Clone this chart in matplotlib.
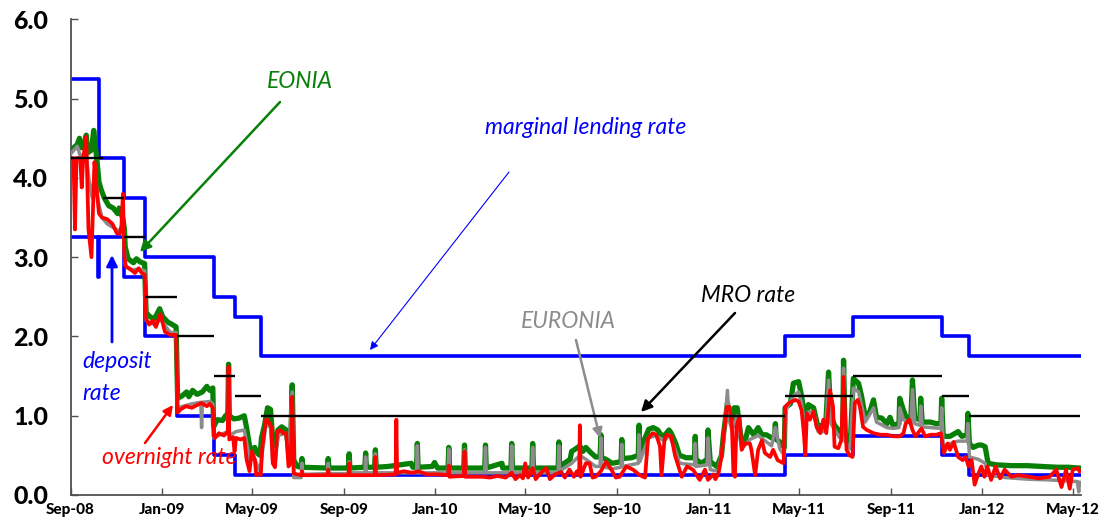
import matplotlib
matplotlib.use("Agg")
import matplotlib.pyplot as plt
import matplotlib.dates as mdates
import pandas as pd

# ---------------- policy rates ----------------
mro_start = ["2008-09-01", "2008-10-15", "2008-11-12", "2008-12-10", "2009-01-21", "2009-03-11",
             "2009-04-08", "2009-05-13", "2011-04-13", "2011-07-13", "2011-11-09", "2011-12-14"]
mro_end = ["2008-10-15", "2008-11-12", "2008-12-10", "2009-01-21", "2009-03-11", "2009-04-08",
           "2009-05-13", "2011-04-13", "2011-07-13", "2011-11-09", "2011-12-14", "2012-05-10"]
mro_rate = [4.25, 3.75, 3.25, 2.50, 2.00, 1.50, 1.25, 1.00, 1.25, 1.50, 1.25, 1.00]

mlf_dates = ["2008-09-01", "2008-10-09", "2008-11-12", "2008-12-10", "2009-03-11", "2009-04-08",
             "2009-05-13", "2011-04-13", "2011-07-13", "2011-11-09", "2011-12-14", "2012-05-10"]
mlf_rate = [5.25, 4.25, 3.75, 3.00, 2.50, 2.25, 1.75, 2.00, 2.25, 2.00, 1.75, 1.75]

dep_dates = ["2008-09-01", "2008-10-08", "2008-10-09", "2008-11-12", "2008-12-10", "2009-01-21",
             "2009-03-11", "2009-04-08", "2011-04-13", "2011-07-13", "2011-11-09", "2011-12-14", "2012-05-10"]
dep_rate = [3.25, 2.75, 3.25, 2.75, 2.00, 1.00, 0.50, 0.25, 0.50, 0.75, 0.50, 0.25, 0.25]

# ---------------- EONIA ----------------
eonia_dates = [
    "2008-09-01", "2008-09-05", "2008-09-10", "2008-09-13", "2008-09-16", "2008-09-19", "2008-09-22",
    "2008-09-24", "2008-09-29", "2008-10-02", "2008-10-06", "2008-10-09", "2008-10-12", "2008-10-16",
    "2008-10-22", "2008-10-28", "2008-11-03", "2008-11-05", "2008-11-10", "2008-11-12", "2008-11-13",
    "2008-11-17", "2008-11-24", "2008-11-28", "2008-12-03", "2008-12-09", "2008-12-10", "2008-12-11",
    "2008-12-16", "2008-12-22", "2008-12-29", "2009-01-02", "2009-01-09", "2009-01-15", "2009-01-20",
    "2009-01-22", "2009-01-28", "2009-02-03", "2009-02-06", "2009-02-11", "2009-02-17", "2009-02-24",
    "2009-03-02", "2009-03-06", "2009-03-10", "2009-03-11", "2009-03-16", "2009-03-23", "2009-03-27",
    "2009-03-30", "2009-03-31", "2009-04-01", "2009-04-07", "2009-04-14", "2009-04-21", "2009-04-24",
    "2009-04-28", "2009-05-01", "2009-05-05", "2009-05-08", "2009-05-12", "2009-05-14", "2009-05-18",
    "2009-05-22", "2009-05-26", "2009-05-29", "2009-06-02", "2009-06-05", "2009-06-10", "2009-06-16",
    "2009-06-19", "2009-06-22", "2009-06-24", "2009-06-26", "2009-07-01", "2009-07-06", "2009-07-07",
    "2009-07-08", "2009-08-10", "2009-08-11", "2009-08-12", "2009-09-07", "2009-09-08", "2009-09-09",
    "2009-09-29", "2009-09-30", "2009-10-01", "2009-10-12", "2009-10-13", "2009-10-14", "2009-10-30",
    "2009-11-30", "2009-12-02", "2009-12-07", "2009-12-08", "2009-12-09", "2009-12-28", "2009-12-31",
    "2010-01-04", "2010-01-18", "2010-01-19", "2010-01-20", "2010-02-08", "2010-02-09", "2010-02-10",
    "2010-03-08", "2010-03-09", "2010-03-10", "2010-03-31", "2010-04-01", "2010-04-12", "2010-04-13",
    "2010-04-14", "2010-05-10", "2010-05-11", "2010-05-12", "2010-06-14", "2010-06-15", "2010-06-16",
    "2010-06-30", "2010-07-02", "2010-07-07", "2010-07-13", "2010-07-17", "2010-07-21", "2010-07-27",
    "2010-08-03", "2010-08-09", "2010-08-10", "2010-08-11", "2010-08-17", "2010-08-25", "2010-09-06",
    "2010-09-07", "2010-09-08", "2010-09-20", "2010-09-29", "2010-09-30", "2010-10-01", "2010-10-08",
    "2010-10-13", "2010-10-19", "2010-10-25", "2010-10-29", "2010-11-03", "2010-11-09", "2010-11-12",
    "2010-11-18", "2010-11-23", "2010-12-02", "2010-12-13", "2010-12-14", "2010-12-15", "2010-12-22",
    "2010-12-30", "2010-12-31", "2011-01-03", "2011-01-12", "2011-01-18", "2011-01-21", "2011-01-26",
    "2011-01-28", "2011-02-01", "2011-02-04", "2011-02-08", "2011-02-10", "2011-02-14", "2011-02-18",
    "2011-02-23", "2011-03-02", "2011-03-08", "2011-03-13", "2011-03-19", "2011-03-26", "2011-03-30",
    "2011-03-31", "2011-04-01", "2011-04-06", "2011-04-12", "2011-04-13", "2011-04-20", "2011-04-24",
    "2011-05-01", "2011-05-05", "2011-05-10", "2011-05-14", "2011-05-21", "2011-05-27", "2011-06-01",
    "2011-06-06", "2011-06-10", "2011-06-13", "2011-06-18", "2011-06-25", "2011-06-29", "2011-06-30",
    "2011-07-02", "2011-07-09", "2011-07-13", "2011-07-20", "2011-07-24", "2011-07-29", "2011-08-04",
    "2011-08-09", "2011-08-13", "2011-08-20", "2011-08-27", "2011-08-31", "2011-09-04", "2011-09-12",
    "2011-09-13", "2011-09-18", "2011-09-22", "2011-09-28", "2011-09-30", "2011-10-03", "2011-10-10",
    "2011-10-11", "2011-10-13", "2011-10-24", "2011-11-01", "2011-11-07", "2011-11-08", "2011-11-10",
    "2011-11-19", "2011-11-30", "2011-12-05", "2011-12-12", "2011-12-13", "2011-12-15", "2011-12-20",
    "2011-12-27", "2011-12-31", "2012-01-05", "2012-01-09", "2012-01-20", "2012-02-10", "2012-03-01",
    "2012-03-20", "2012-04-10", "2012-04-25", "2012-05-10"]
eonia_vals = [
    4.35, 4.38, 4.42, 4.50, 4.38, 4.40, 4.54,
    4.32, 4.35, 4.60, 4.25, 3.95, 3.85, 3.75,
    3.65, 3.62, 3.55, 3.62, 3.48, 3.35, 3.13,
    2.98, 2.93, 2.98, 2.94, 2.92, 2.55, 2.30,
    2.25, 2.22, 2.35, 2.25, 2.18, 2.15, 2.12,
    1.22, 1.25, 1.30, 1.24, 1.32, 1.27, 1.30,
    1.37, 1.32, 1.35, 0.86, 0.95, 0.94, 1.00,
    1.02, 1.65, 1.00, 0.96, 0.97, 1.00, 0.85,
    0.62, 0.55, 0.60, 0.53, 0.50, 0.72, 0.88,
    1.10, 1.08, 0.70, 0.62, 0.82, 0.86, 0.82,
    0.58, 0.65, 1.39, 0.44, 0.36, 0.35, 0.46,
    0.35, 0.34, 0.46, 0.34, 0.34, 0.52, 0.34,
    0.35, 0.53, 0.35, 0.35, 0.57, 0.35, 0.36,
    0.40, 0.35, 0.35, 0.65, 0.35, 0.36, 0.41,
    0.34, 0.34, 0.60, 0.34, 0.34, 0.63, 0.34,
    0.34, 0.63, 0.34, 0.40, 0.34, 0.34, 0.65,
    0.34, 0.34, 0.65, 0.34, 0.34, 0.67, 0.36,
    0.45, 0.55, 0.58, 0.62, 0.55, 0.60, 0.54,
    0.48, 0.48, 0.76, 0.47, 0.45, 0.40, 0.42,
    0.70, 0.46, 0.47, 0.50, 0.88, 0.55, 0.72,
    0.83, 0.85, 0.82, 0.76, 0.75, 0.82, 0.78,
    0.65, 0.50, 0.47, 0.47, 0.74, 0.45, 0.40,
    0.45, 0.82, 0.42, 0.36, 0.50, 0.79, 1.16,
    1.05, 0.90, 1.10, 1.10, 0.95, 0.66, 0.66,
    0.85, 0.76, 0.85, 0.76, 0.76, 0.72, 0.74,
    0.90, 0.70, 0.67, 0.60, 1.10, 1.15, 1.41,
    1.43, 1.25, 0.93, 1.14, 1.10, 0.85, 0.88,
    0.85, 1.55, 1.00, 0.88, 0.80, 0.82, 1.70,
    0.78, 0.65, 1.47, 1.41, 1.25, 0.98, 1.05,
    1.20, 0.98, 0.97, 0.90, 0.98, 0.88, 0.90,
    1.22, 1.07, 0.97, 0.99, 1.45, 0.97, 0.95,
    1.22, 0.92, 0.92, 0.90, 0.90, 1.22, 0.74,
    0.74, 0.80, 0.74, 0.76, 1.03, 0.65, 0.60,
    0.63, 0.63, 0.61, 0.40, 0.38, 0.37, 0.37,
    0.36, 0.35, 0.35, 0.34]

# ---------------- EURONIA ----------------
euronia_dates = [
    "2008-09-01", "2008-09-10", "2008-09-14", "2008-09-22", "2008-09-26", "2008-09-30", "2008-10-03",
    "2008-10-08", "2008-10-13", "2008-10-20", "2008-10-27", "2008-11-05", "2008-11-10", "2008-11-13",
    "2008-11-20", "2008-12-01", "2008-12-09", "2008-12-11", "2008-12-22", "2008-12-30", "2009-01-12",
    "2009-01-20", "2009-01-22", "2009-02-10", "2009-02-22", "2009-02-23", "2009-02-24", "2009-03-06",
    "2009-03-10", "2009-03-11", "2009-03-20", "2009-03-30", "2009-03-31", "2009-04-01", "2009-04-10",
    "2009-04-21", "2009-04-28", "2009-05-05", "2009-05-12", "2009-05-20", "2009-05-26", "2009-05-29",
    "2009-06-01", "2009-06-05", "2009-06-16", "2009-06-19", "2009-06-24", "2009-06-26", "2009-07-06",
    "2009-07-07", "2009-07-08", "2009-08-10", "2009-08-11", "2009-08-12", "2009-09-07", "2009-09-08",
    "2009-09-09", "2009-09-29", "2009-09-30", "2009-10-01", "2009-10-12", "2009-10-13", "2009-10-14",
    "2009-12-07", "2009-12-08", "2009-12-09", "2010-01-18", "2010-01-19", "2010-01-20", "2010-02-08",
    "2010-02-09", "2010-02-10", "2010-03-08", "2010-03-09", "2010-03-10", "2010-04-12", "2010-04-13",
    "2010-04-14", "2010-05-10", "2010-05-11", "2010-05-12", "2010-06-14", "2010-06-15", "2010-06-16",
    "2010-07-02", "2010-07-13", "2010-07-21", "2010-08-03", "2010-08-09", "2010-08-10", "2010-08-11",
    "2010-08-25", "2010-09-06", "2010-09-07", "2010-09-08", "2010-09-29", "2010-09-30", "2010-10-01",
    "2010-10-13", "2010-10-22", "2010-11-03", "2010-11-09", "2010-11-18", "2010-11-23", "2010-12-13",
    "2010-12-14", "2010-12-15", "2010-12-30", "2010-12-31", "2011-01-03", "2011-01-14", "2011-01-21",
    "2011-01-26", "2011-01-28", "2011-02-01", "2011-02-08", "2011-02-14", "2011-02-25", "2011-03-08",
    "2011-03-26", "2011-03-31", "2011-04-06", "2011-04-12", "2011-04-13", "2011-04-24", "2011-05-01",
    "2011-05-05", "2011-05-10", "2011-05-14", "2011-05-21", "2011-05-27", "2011-06-06", "2011-06-10",
    "2011-06-13", "2011-06-25", "2011-06-29", "2011-06-30", "2011-07-02", "2011-07-09", "2011-07-13",
    "2011-07-20", "2011-07-29", "2011-08-09", "2011-08-13", "2011-08-27", "2011-09-04", "2011-09-12",
    "2011-09-13", "2011-09-18", "2011-09-28", "2011-09-30", "2011-10-03", "2011-10-10", "2011-10-11",
    "2011-10-13", "2011-11-07", "2011-11-08", "2011-11-10", "2011-11-30", "2011-12-12", "2011-12-13",
    "2011-12-15", "2011-12-27", "2012-01-05", "2012-01-09", "2012-02-01", "2012-03-01", "2012-04-01",
    "2012-05-07", "2012-05-09", "2012-05-10"]
euronia_vals = [
    4.30, 4.40, 4.28, 4.30, 3.95, 3.75, 4.10,
    3.70, 3.50, 3.42, 3.38, 3.33, 3.40, 2.90,
    2.84, 2.85, 2.83, 2.20, 2.15, 2.22, 2.05,
    2.05, 1.10, 1.15, 1.17, 0.85, 1.17, 1.18,
    1.15, 0.72, 0.76, 0.80, 1.55, 0.75, 0.80,
    0.82, 0.45, 0.45, 0.30, 0.90, 0.85, 0.42,
    0.38, 0.75, 0.78, 0.45, 1.30, 0.22, 0.22,
    0.40, 0.26, 0.27, 0.40, 0.27, 0.27, 0.42,
    0.28, 0.28, 0.48, 0.28, 0.28, 0.52, 0.28,
    0.28, 0.62, 0.28, 0.28, 0.58, 0.28, 0.28,
    0.57, 0.28, 0.28, 0.60, 0.28, 0.28, 0.62,
    0.28, 0.28, 0.60, 0.28, 0.28, 0.62, 0.30,
    0.40, 0.50, 0.45, 0.36, 0.36, 0.72, 0.36,
    0.33, 0.35, 0.64, 0.36, 0.40, 0.76, 0.42,
    0.72, 0.75, 0.68, 0.76, 0.55, 0.40, 0.38,
    0.65, 0.36, 0.38, 0.72, 0.32, 0.30, 0.70,
    1.32, 0.95, 0.82, 1.00, 0.58, 0.70, 0.75,
    0.62, 0.85, 0.58, 0.50, 1.05, 1.25, 1.30,
    1.15, 0.85, 1.05, 1.05, 0.80, 0.80, 1.45,
    0.90, 0.72, 0.75, 1.60, 0.68, 0.58, 1.35,
    1.30, 0.92, 1.10, 0.92, 0.85, 0.84, 0.85,
    1.10, 0.95, 0.90, 1.33, 0.90, 0.88, 1.12,
    0.86, 0.84, 1.10, 0.62, 0.68, 0.68, 0.90,
    0.48, 0.45, 0.40, 0.25, 0.22, 0.20, 0.19,
    0.17, 0.04, 0.16]

# ---------------- overnight rate ----------------
on_dates = [
    "2008-09-01", "2008-09-05", "2008-09-07", "2008-09-09", "2008-09-14", "2008-09-16", "2008-09-18",
    "2008-09-22", "2008-09-25", "2008-09-29", "2008-10-01", "2008-10-03", "2008-10-06", "2008-10-09",
    "2008-10-13", "2008-10-20", "2008-10-27", "2008-11-02", "2008-11-06", "2008-11-08", "2008-11-10",
    "2008-11-12", "2008-11-14", "2008-11-20", "2008-11-26", "2008-12-01", "2008-12-05", "2008-12-09",
    "2008-12-11", "2008-12-15", "2008-12-20", "2008-12-24", "2008-12-30", "2009-01-05", "2009-01-12",
    "2009-01-20", "2009-01-22", "2009-01-26", "2009-02-02", "2009-02-10", "2009-02-16", "2009-02-23",
    "2009-03-02", "2009-03-06", "2009-03-10", "2009-03-11", "2009-03-13", "2009-03-18", "2009-03-25",
    "2009-03-30", "2009-03-31", "2009-04-01", "2009-04-06", "2009-04-08", "2009-04-10", "2009-04-16",
    "2009-04-21", "2009-04-24", "2009-04-28", "2009-05-01", "2009-05-05", "2009-05-07", "2009-05-11",
    "2009-05-13", "2009-05-15", "2009-05-20", "2009-05-22", "2009-05-27", "2009-05-29", "2009-06-01",
    "2009-06-04", "2009-06-08", "2009-06-12", "2009-06-16", "2009-06-19", "2009-06-22", "2009-06-24",
    "2009-06-26", "2009-07-06", "2009-07-07", "2009-07-08", "2009-08-10", "2009-08-11", "2009-08-12",
    "2009-09-07", "2009-09-08", "2009-09-09", "2009-10-12", "2009-10-13", "2009-10-14", "2009-11-09",
    "2009-11-10", "2009-11-11", "2009-11-20", "2009-12-01", "2009-12-10", "2009-12-20", "2010-01-05",
    "2010-01-18", "2010-01-19", "2010-01-20", "2010-02-08", "2010-02-09", "2010-02-10", "2010-03-05",
    "2010-03-15", "2010-03-25", "2010-04-05", "2010-04-13", "2010-04-18", "2010-04-24", "2010-04-28",
    "2010-05-01", "2010-05-05", "2010-05-11", "2010-05-15", "2010-05-22", "2010-05-29", "2010-06-03",
    "2010-06-10", "2010-06-18", "2010-06-23", "2010-06-29", "2010-07-05", "2010-07-09", "2010-07-12",
    "2010-07-13", "2010-07-14", "2010-07-21", "2010-07-26", "2010-07-30", "2010-08-03", "2010-08-10",
    "2010-08-17", "2010-08-24", "2010-08-30", "2010-09-04", "2010-09-13", "2010-09-22", "2010-10-01",
    "2010-10-08", "2010-10-12", "2010-10-18", "2010-10-23", "2010-10-28", "2010-10-30", "2010-11-03",
    "2010-11-06", "2010-11-12", "2010-11-17", "2010-11-19", "2010-11-26", "2010-12-03", "2010-12-11",
    "2010-12-20", "2010-12-27", "2010-12-31", "2011-01-07", "2011-01-10", "2011-01-14", "2011-01-18",
    "2011-01-25", "2011-01-29", "2011-02-01", "2011-02-03", "2011-02-05", "2011-02-07", "2011-02-11",
    "2011-02-14", "2011-02-18", "2011-02-25", "2011-02-27", "2011-03-04", "2011-03-08", "2011-03-13",
    "2011-03-17", "2011-03-24", "2011-03-28", "2011-04-03", "2011-04-11", "2011-04-13", "2011-04-18",
    "2011-04-22", "2011-04-27", "2011-05-01", "2011-05-05", "2011-05-08", "2011-05-10", "2011-05-12",
    "2011-05-16", "2011-05-21", "2011-05-25", "2011-05-30", "2011-06-03", "2011-06-07", "2011-06-12",
    "2011-06-16", "2011-06-18", "2011-06-23", "2011-06-27", "2011-06-30", "2011-07-04", "2011-07-08",
    "2011-07-12", "2011-07-15", "2011-07-19", "2011-07-22", "2011-07-26", "2011-07-31", "2011-08-09",
    "2011-08-18", "2011-08-27", "2011-09-05", "2011-09-13", "2011-09-18", "2011-09-21", "2011-09-26",
    "2011-09-30", "2011-10-04", "2011-10-12", "2011-10-17", "2011-10-24", "2011-11-01", "2011-11-07",
    "2011-11-11", "2011-11-16", "2011-11-19", "2011-11-24", "2011-11-30", "2011-12-06", "2011-12-10",
    "2011-12-14", "2011-12-18", "2011-12-22", "2011-12-27", "2011-12-31", "2012-01-04", "2012-01-08",
    "2012-01-13", "2012-01-19", "2012-01-25", "2012-01-31", "2012-02-09", "2012-02-18", "2012-03-04",
    "2012-03-17", "2012-03-31", "2012-04-09", "2012-04-16", "2012-04-22", "2012-04-27", "2012-05-01",
    "2012-05-08", "2012-05-10"]
on_vals = [
    4.25, 4.25, 3.35, 4.25, 4.25, 3.88, 4.25,
    4.52, 3.35, 3.00, 3.60, 4.20, 3.85, 3.55,
    3.50, 3.48, 3.42, 3.30, 3.30, 3.40, 3.80,
    3.00, 2.88, 2.85, 2.80, 2.86, 2.80, 2.78,
    2.22, 2.15, 2.20, 2.12, 2.28, 2.06, 2.02,
    2.02, 1.04, 1.08, 1.12, 1.10, 1.13, 1.16,
    1.12, 1.15, 1.10, 0.75, 0.72, 0.78, 0.75,
    0.80, 1.62, 0.70, 0.73, 0.55, 0.72, 0.70,
    0.72, 0.45, 0.30, 0.55, 0.45, 0.25, 0.27,
    0.25, 0.60, 0.95, 0.95, 0.86, 0.40, 0.35,
    0.80, 0.82, 0.78, 0.78, 0.36, 0.40, 1.24,
    0.27, 0.25, 0.30, 0.25, 0.25, 0.32, 0.25,
    0.25, 0.40, 0.25, 0.25, 0.48, 0.25, 0.26,
    0.95, 0.28, 0.30, 0.28, 0.30, 0.26, 0.26,
    0.25, 0.37, 0.23, 0.24, 0.55, 0.23, 0.23,
    0.22, 0.24, 0.22, 0.28, 0.20, 0.25, 0.21,
    0.40, 0.22, 0.34, 0.20, 0.28, 0.34, 0.20,
    0.26, 0.29, 0.22, 0.32, 0.23, 0.30, 0.25,
    0.88, 0.23, 0.40, 0.40, 0.22, 0.23, 0.30,
    0.42, 0.32, 0.22, 0.23, 0.36, 0.32, 0.25,
    0.22, 0.71, 0.78, 0.76, 0.61, 0.25, 0.70,
    0.76, 0.74, 0.50, 0.44, 0.23, 0.36, 0.32,
    0.19, 0.32, 0.19, 0.26, 0.20, 0.27, 0.48,
    1.11, 1.11, 0.86, 0.27, 0.23, 0.86, 0.99,
    0.57, 0.65, 0.65, 0.57, 0.25, 0.57, 0.69,
    0.53, 0.48, 0.57, 0.44, 0.40, 1.11, 1.16,
    1.18, 1.20, 1.18, 1.07, 0.78, 0.50, 1.03,
    0.95, 1.05, 0.86, 0.78, 0.95, 0.78, 1.32,
    1.11, 0.61, 0.59, 0.69, 1.49, 0.57, 0.50,
    0.48, 1.16, 1.20, 1.11, 0.86, 0.82, 0.78,
    0.76, 0.76, 0.74, 0.74, 0.78, 0.90, 0.95,
    0.82, 0.74, 0.84, 0.74, 0.76, 0.76, 0.78,
    0.53, 0.65, 0.57, 0.67, 0.48, 0.44, 0.48,
    0.36, 0.44, 0.13, 0.27, 0.36, 0.23, 0.36,
    0.19, 0.36, 0.21, 0.32, 0.23, 0.25, 0.23,
    0.21, 0.23, 0.32, 0.10, 0.32, 0.08, 0.32,
    0.34, 0.30]

x_start, x_end = "2008-09-01", "2012-05-12"
tick_dates = ["2008-09-01", "2009-01-01", "2009-05-01", "2009-09-01", "2010-01-01", "2010-05-01",
              "2010-09-01", "2011-01-01", "2011-05-01", "2011-09-01", "2012-01-01", "2012-05-01"]
y_ticks = [0, 1, 2, 3, 4, 5, 6]

D = pd.to_datetime

W, H = 1106, 530
fig = plt.figure(figsize=(W / 100, H / 100), dpi=100)
ax = fig.add_axes([70.5 / W, 35 / H, (1081 - 70.5) / W, (495 - 19.4) / H])

BLUE = "#0000FF"
GREEN = "#088008"
GRAY = "#8C8C8C"
RED = "#FF0000"

ax.step(D(mlf_dates), mlf_rate, where="post", color=BLUE, lw=2.6, zorder=2)
ax.step(D(dep_dates), dep_rate, where="post", color=BLUE, lw=2.6, zorder=2)
ax.plot(D(eonia_dates), eonia_vals, color=GREEN, lw=3.8, zorder=3, solid_joinstyle="round")
ax.plot(D(euronia_dates), euronia_vals, color=GRAY, lw=2.5, zorder=4, solid_joinstyle="round")
ax.plot(D(on_dates), on_vals, color=RED, lw=2.7, zorder=5, solid_joinstyle="round")
ax.hlines(mro_rate, D(mro_start), D(mro_end), colors="black", lw=1.7, zorder=6)

ax.set_xlim(D(x_start), D(x_end))
ax.set_ylim(0, 6)
ax.set_yticks(y_ticks)
ax.yaxis.set_major_formatter(matplotlib.ticker.FormatStrFormatter("%.1f"))
ax.set_xticks(D(tick_dates))
ax.xaxis.set_major_formatter(mdates.DateFormatter("%b-%y"))

for s in ["top", "right"]:
    ax.spines[s].set_visible(False)
for s in ["left", "bottom"]:
    ax.spines[s].set_color("#505050")
    ax.spines[s].set_linewidth(1.3)

ax.tick_params(axis="y", direction="in", length=5, width=1, color="#505050", pad=16)
ax.tick_params(axis="x", direction="in", length=5, width=1, color="#505050", pad=6)
for lab in ax.get_yticklabels():
    lab.set_fontfamily("Lato")
    lab.set_fontweight("black")
    lab.set_fontsize(18)
for lab in ax.get_xticklabels():
    lab.set_fontfamily("Lato")
    lab.set_fontweight("black")
    lab.set_fontsize(11)

def fp(px, py):
    return (px, H - py)

tkw = dict(xycoords="figure pixels", fontfamily="Lato", fontstyle="italic", fontsize=16.5)
ax.annotate("EONIA", fp(300, 81), color=GREEN, ha="center", va="center", **tkw)
ax.annotate("marginal lending rate", fp(586, 127), color=BLUE, ha="center", va="center", **tkw)
ax.annotate("MRO rate", fp(748, 295), color="black", ha="center", va="center", **tkw)
ax.annotate("EURONIA", fp(568, 322), color=GRAY, ha="center", va="center", **tkw)
ax.annotate("deposit", fp(82, 362), color=BLUE, ha="left", va="center", **tkw)
ax.annotate("rate", fp(82, 393), color=BLUE, ha="left", va="center", **tkw)
ax.annotate("overnight rate", fp(102, 458), color=RED, ha="left", va="center", **tkw)

def arrow(p_from, p_to, color, lw, ms):
    ax.annotate("", xy=fp(*p_to), xytext=fp(*p_from), xycoords="figure pixels",
                textcoords="figure pixels",
                arrowprops=dict(arrowstyle="-|>", color=color, lw=lw, mutation_scale=ms,
                                shrinkA=0, shrinkB=0))

arrow((280, 102), (140, 252), GREEN, 1.8, 16)
arrow((509, 172), (370, 350), BLUE, 0.8, 12)
arrow((735, 313), (641, 412), "black", 1.8, 16)
arrow((576, 340), (600, 438), GRAY, 1.8, 14)
arrow((112, 342), (112, 255), BLUE, 2.0, 16)
arrow((145, 443), (173, 405), RED, 1.8, 14)

fig.savefig("out.png", dpi=100)
